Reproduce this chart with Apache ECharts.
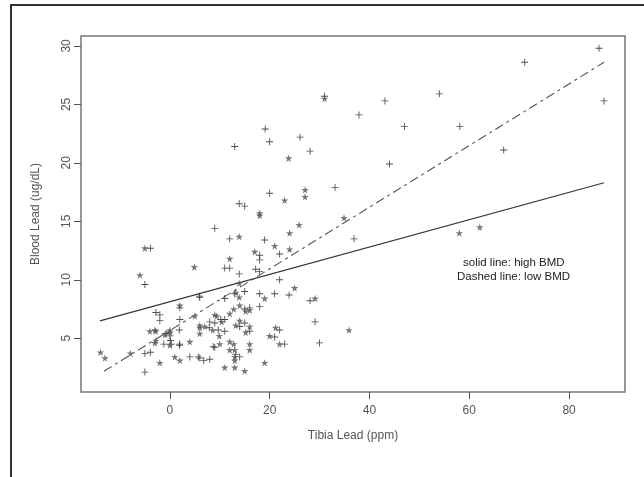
<!DOCTYPE html>
<html><head><meta charset="utf-8">
<script src="https://cdn.jsdelivr.net/npm/echarts@6/dist/echarts.min.js"></script>
<style>html,body{margin:0;padding:0;background:#fff}#c{width:644px;height:477px}</style>
</head><body><div id="c"></div>
<script>
// ---- data ----
const xTicks = [0, 20, 40, 60, 80];
const yTicks = [5, 10, 15, 20, 25, 30];
const xLabel = 'Tibia Lead (ppm)';
const yLabel = 'Blood Lead (ug/dL)';
const legendLines = ['solid line: high BMD', 'Dashed line: low BMD'];

const plusPoints = [
  [31.0,25.7],[43.1,25.3],[37.9,24.1],[54.0,25.9],[47.0,23.1],[58.1,23.1],[66.9,21.1],[71.1,28.6],[86.0,29.8],[87.0,25.3],
  [44.0,19.9],[33.1,17.9],[36.9,13.5],[19.1,22.9],[20.0,21.8],[26.1,22.2],[28.1,21.0],[13.0,21.4],[20.0,17.4],[13.9,16.5],
  [15.0,16.3],[9.0,14.4],[12.0,13.5],[19.0,13.4],[22.0,12.2],[18.0,12.1],[18.0,11.7],[11.0,11.0],[12.0,11.0],[17.2,10.9],
  [18.0,10.7],[-3.9,12.7],[-5.0,9.6],[6.0,8.5],[13.9,10.5],[22.0,10.0],[15.0,9.0],[11.0,8.4],[18.0,8.8],[21.0,8.8],
  [23.9,8.7],[5.9,8.6],[28.1,8.2],[13.0,8.8],[2.0,7.6],[15.0,7.5],[16.0,7.6],[18.0,7.7],[11.0,6.6],[10.2,6.6],
  [8.0,6.4],[9.0,6.3],[7.9,5.9],[9.7,5.7],[11.0,5.6],[14.0,6.0],[15.0,6.3],[16.0,5.6],[22.0,5.7],[21.0,5.1],
  [29.1,6.4],[23.0,4.5],[30.0,4.6],[-2.8,7.2],[-2.0,7.0],[-2.0,6.5],[2.0,6.6],[1.9,5.7],[2.0,4.5],[0.0,5.2],
  [0.1,4.8],[-1.2,4.5],[-5.0,3.7],[-3.9,3.8],[-5.0,2.1],[4.0,3.4],[5.7,3.4],[6.8,3.1],[6.0,3.3],[8.0,3.2],
  [8.7,4.3],[9.0,4.2],[13.2,3.6],[14.0,3.4],[-0.8,5.4],[0.3,4.5],[1.9,4.4]
];
const starPoints = [
  [31.0,25.5],[23.8,20.4],[58.0,14.0],[62.1,14.5],[34.9,15.3],[35.9,5.7],[27.1,17.7],[27.1,17.1],[23.0,16.8],[18.0,15.7],
  [18.0,15.5],[25.9,14.7],[13.9,13.7],[24.0,14.0],[21.0,12.9],[24.0,12.6],[17.0,12.4],[12.0,11.8],[-5.0,12.7],[-6.0,10.4],
  [4.9,11.1],[2.0,7.8],[13.9,9.7],[13.2,8.9],[13.9,8.5],[19.0,8.4],[29.1,8.4],[25.0,9.3],[14.0,7.8],[12.8,7.5],
  [12.0,7.1],[16.0,7.4],[15.2,7.3],[9.0,7.0],[5.0,6.9],[9.4,6.9],[10.4,6.4],[7.0,6.0],[6.0,5.9],[8.6,5.7],
  [6.0,5.4],[9.9,5.2],[13.2,6.1],[14.0,6.5],[16.0,6.0],[15.2,5.5],[21.2,5.9],[20.0,5.2],[-3.0,5.7],[-4.0,5.6],
  [-2.8,5.6],[0.0,5.7],[-1.0,5.3],[0.0,4.4],[4.0,4.7],[-2.8,4.8],[-3.0,4.6],[10.0,4.5],[12.0,4.7],[12.8,4.5],
  [12.0,4.0],[13.0,4.0],[13.0,3.4],[16.0,4.5],[16.0,4.0],[1.0,3.4],[2.0,3.1],[-2.0,2.9],[11.0,2.5],[13.0,2.5],
  [15.0,2.2],[19.0,2.9],[22.0,4.5],[-13.9,3.8],[-13.0,3.3],[-7.9,3.7],[0.1,5.5],[6.0,6.1],[13.0,3.1]
];
const highBMDLine = [[-14.0,6.48],[87.0,18.3]];
const lowBMDLine = [[-13.2,2.18],[87.0,28.6]];

// ---- chart ----
const FONT = '"Liberation Sans", Arial, sans-serif';
const chart = echarts.init(document.getElementById('c'), null, {renderer:'canvas'});
const plusPath = 'path://M3.5,0H4.5V3.5H8V4.5H4.5V8H3.5V4.5H0V3.5H3.5Z';
const starPath = 'path://M50,0L61,35H98L68,57L79,91L50,70L21,91L32,57L2,35H39Z';
chart.setOption({
  animation:false,
  backgroundColor:'#fff',
  grid:{left:81, right:19, top:36, bottom:85, show:true, borderColor:'#777', borderWidth:1.5, backgroundColor:'transparent'},
  xAxis:{
    type:'value', min:-17.8, max:91.2,
    name:xLabel, nameLocation:'middle', nameGap:38,
    nameTextStyle:{fontFamily:FONT, fontSize:12, color:'#555'},
    axisLine:{show:false, onZero:false},
    splitLine:{show:false},
    axisTick:{show:true, inside:false, length:7, lineStyle:{color:'#555'}, customValues:xTicks},
    axisLabel:{fontFamily:FONT, fontSize:12, color:'#555', margin:13, customValues:xTicks}
  },
  yAxis:{
    type:'value', min:0.4, max:30.85,
    name:yLabel, nameLocation:'middle', nameGap:39,
    nameTextStyle:{fontFamily:FONT, fontSize:12, color:'#555'},
    axisLine:{show:false, onZero:false},
    splitLine:{show:false},
    axisTick:{show:true, inside:false, length:7, lineStyle:{color:'#555'}, customValues:yTicks},
    axisLabel:{fontFamily:FONT, fontSize:12, color:'#555', margin:8, rotate:90, customValues:yTicks}
  },
  graphic:[
    {type:'rect', shape:{x:11, y:5, width:700, height:520}, style:{fill:'none', stroke:'#333', lineWidth:2}, silent:true},
    {type:'text', left:463, top:257, style:{text:legendLines[0], font:'11.5px '+FONT, fill:'#222'}},
    {type:'text', left:457, top:271, style:{text:legendLines[1], font:'11.5px '+FONT, fill:'#222'}}
  ],
  series:[
    {type:'line', data:highBMDLine, symbol:'none', lineStyle:{color:'#333', width:1.2, type:'solid'}, z:3},
    {type:'line', data:lowBMDLine, symbol:'none', lineStyle:{color:'#555', width:1.1, type:[9,4,3,4]}, z:3},
    {type:'scatter', data:plusPoints, symbol:plusPath, symbolSize:7, itemStyle:{color:'#222'}, z:4},
    {type:'scatter', data:starPoints, symbol:starPath, symbolSize:7.5, itemStyle:{color:'#555'}, z:4}
  ]
});
</script></body></html>
